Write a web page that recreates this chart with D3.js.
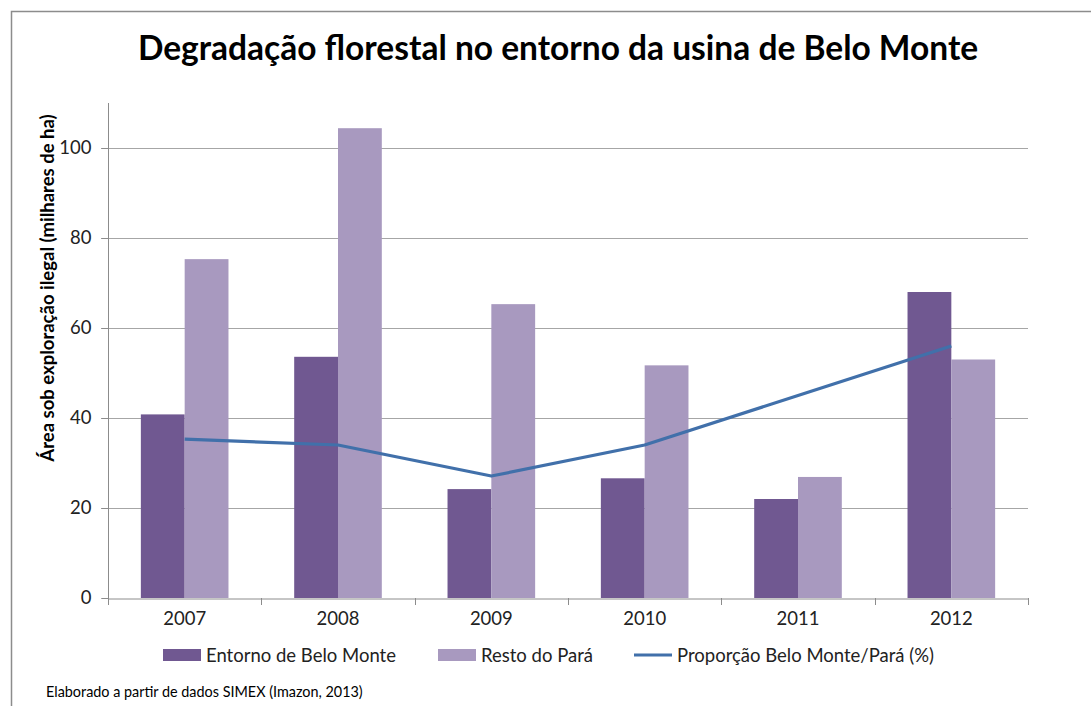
<!DOCTYPE html>
<html>
<head>
<meta charset="UTF-8">
<title>Degradação florestal</title>
<style>
  body { margin: 0; background: #fff; }
  svg text { font-family: Lato, "Open Sans", sans-serif; }
</style>
</head>
<body>
<div id="chart"></div>
<script src="https://cdn.jsdelivr.net/npm/d3@7"></script>
<script>
// dados
var anos = ["2007", "2008", "2009", "2010", "2011", "2012"];
var entorno = [40.8, 53.6, 24.2, 26.6, 22.0, 68.0];
var resto = [75.3, 104.4, 65.3, 51.7, 26.9, 53.0];
var proporcao = [35.3, 34.0, 27.1, 34.0, 45.0, 56.0];
var yTicks = [0, 20, 40, 60, 80, 100];
var series = ["Entorno de Belo Monte", "Resto do Pará", "Proporção Belo Monte/Pará (%)"];

var width = 1091, height = 706;
var margin = {left: 108, right: 63, top: 103, bottom: 108};
var cor = ["#705891", "#a899bf", "#4170aa"];

var svg = d3.select("#chart").append("svg")
    .attr("width", width).attr("height", height);

// moldura
svg.append("rect")
    .attr("x", 11.5).attr("y", 11.5)
    .attr("width", width).attr("height", height)
    .attr("fill", "none").attr("stroke", "#8c8c8c").attr("stroke-width", 1.5);

svg.append("text")
    .attr("x", 558).attr("y", 60)
    .attr("text-anchor", "middle")
    .attr("font-size", 33.5).attr("font-weight", "bold")
    .attr("fill", "#000")
    .text("Degradação florestal no entorno da usina de Belo Monte");

var x = d3.scaleBand().domain(anos)
    .range([margin.left, width - margin.right]);
var y = d3.scaleLinear().domain([0, 110])
    .range([height - margin.bottom, margin.top]);

// grade
svg.append("g").selectAll("line")
    .data(yTicks.filter(function (d) { return d > 0; }))
    .join("line")
    .attr("x1", margin.left - 7).attr("x2", width - margin.right)
    .attr("y1", function (d) { return Math.round(y(d)) + 0.5; })
    .attr("y2", function (d) { return Math.round(y(d)) + 0.5; })
    .attr("stroke", "#a6a6a6").attr("stroke-width", 1.2);

// eixo y
var yAxis = svg.append("g")
    .attr("transform", "translate(" + (margin.left + 0.5) + ",0)")
    .call(d3.axisLeft(y).tickValues(yTicks).tickSize(7).tickPadding(10));
yAxis.select(".domain").attr("stroke", "#8c8c8c").attr("d",
    "M-7," + (Math.round(y(0)) + 0.5) + "H0V" + margin.top);
yAxis.selectAll(".tick line").attr("stroke", "#8c8c8c");
yAxis.selectAll(".tick text").attr("font-size", 18.5).attr("fill", "#222");

// barras
var inner = d3.scaleBand().domain([0, 1])
    .range([0, x.bandwidth()]).paddingOuter(0.75).paddingInner(0);
var grupos = svg.append("g").selectAll("g")
    .data(anos).join("g")
    .attr("transform", function (d) { return "translate(" + x(d) + ",0)"; });
grupos.selectAll("rect")
    .data(function (d, i) { return [entorno[i], resto[i]]; })
    .join("rect")
    .attr("x", function (d, j) { return inner(j); })
    .attr("width", inner.bandwidth())
    .attr("y", function (d) { return y(d); })
    .attr("height", function (d) { return y(0) - y(d); })
    .attr("fill", function (d, j) { return cor[j]; });

// eixo x
var xAxis = svg.append("g")
    .attr("transform", "translate(0," + (Math.round(y(0)) + 0.5) + ")")
    .call(d3.axisBottom(x).tickSize(0).tickPadding(13));
xAxis.select(".domain").attr("stroke", "#8c8c8c");
xAxis.selectAll(".tick text").attr("font-size", 18.5).attr("fill", "#222");
svg.append("g").selectAll("line")
    .data(d3.range(anos.length + 1))
    .join("line")
    .attr("x1", function (i) { return Math.round(margin.left + i * x.step()) + 0.5; })
    .attr("x2", function (i) { return Math.round(margin.left + i * x.step()) + 0.5; })
    .attr("y1", y(0)).attr("y2", y(0) + 7)
    .attr("stroke", "#8c8c8c");

// linha
var linha = d3.line()
    .x(function (d, i) { return x(anos[i]) + x.bandwidth() / 2; })
    .y(function (d) { return y(d); });
svg.append("path")
    .datum(proporcao)
    .attr("d", linha)
    .attr("fill", "none").attr("stroke", cor[2])
    .attr("stroke-width", 3.2).attr("stroke-linejoin", "round");

// título do eixo y
svg.append("text")
    .attr("transform", "translate(54,288) rotate(-90)")
    .attr("text-anchor", "middle")
    .attr("font-size", 18.5).attr("font-weight", "bold")
    .attr("fill", "#000")
    .text("Área sob exploração ilegal (milhares de ha)");

// legenda
var legX = [163, 438, 634];
var leg = svg.append("g").selectAll("g")
    .data(series).join("g")
    .attr("transform", function (d, i) { return "translate(" + legX[i] + ",655)"; });
leg.each(function (d, i) {
    var g = d3.select(this);
    if (i < 2) {
        g.append("rect").attr("x", 0).attr("y", -6).attr("width", 38).attr("height", 12)
            .attr("fill", cor[i]);
    } else {
        g.append("line").attr("x1", 0).attr("x2", 38).attr("y1", 0).attr("y2", 0)
            .attr("stroke", cor[2]).attr("stroke-width", 3.2);
    }
    g.append("text").attr("x", 43).attr("y", 6.5)
        .attr("font-size", 18.5).attr("fill", "#222").text(d);
});

svg.append("text")
    .attr("x", 46).attr("y", 697)
    .attr("font-size", 14.4).attr("fill", "#000")
    .text("Elaborado a partir de dados SIMEX (Imazon, 2013)");
</script>
</body>
</html>
